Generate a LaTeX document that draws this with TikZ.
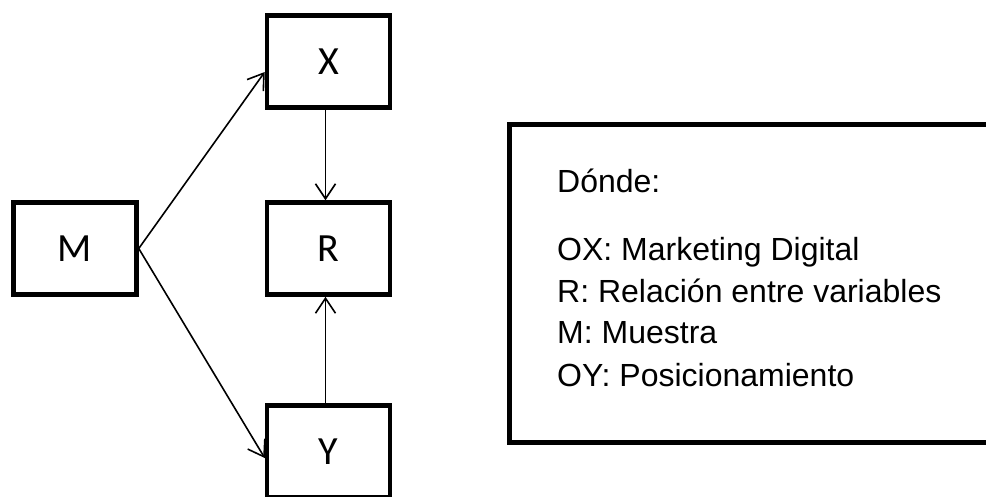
\documentclass[tikz,border=0pt]{standalone}
\usepackage{fontspec}
\setmainfont{Liberation Sans}
\newfontfamily\boxfont{Carlito}
\usetikzlibrary{arrows.meta}
\begin{document}
\begin{tikzpicture}[x=1pt,y=-1pt,
  vbox/.style={draw,line width=4.5pt,minimum width=123pt,minimum height=92pt,inner sep=0pt,font=\boxfont\fontsize{40}{44}\selectfont},
  conn/.style={line width=1.6pt,-{Straight Barb[length=15pt,width=20pt,line width=1.6pt]}},
  legtext/.style={anchor=base west,inner sep=0pt,font=\fontsize{32}{40}\selectfont}]
\clip (0,0) rectangle (986,496);
\fill[white] (0,0) rectangle (986,496);
\node[vbox] (X) at (328.5,61.5) {X};
\node[vbox] (R) at (328.5,248.5) {R};
\node[vbox] (M) at (75,248.5) {M};
\node[vbox] (Y) at (328.5,451.5) {Y};
\draw[conn] ([xshift=-3pt]X.south) -- ([xshift=-3pt]R.north);
\draw[conn] ([xshift=-3pt]Y.north) -- ([xshift=-3pt]R.south);
\draw[conn] (M.east) -- ([yshift=-10.5pt]X.west);
\draw[conn] (M.east) -- ([yshift=-6.5pt]Y.west);
\node[draw,line width=4.5pt,minimum width=500pt,minimum height=318pt,anchor=north west] (L) at (507,122) {};
\node[legtext] (t0) at (557,192) {Dónde:};
\node[legtext] (t1) at (557,260) {OX: Marketing Digital};
\node[legtext] (t2) at (557,302) {R: Relación entre variables};
\node[legtext] (t3) at (557,343) {M: Muestra};
\node[legtext] (t4) at (557,386) {OY: Posicionamiento};
\end{tikzpicture}
\end{document}
